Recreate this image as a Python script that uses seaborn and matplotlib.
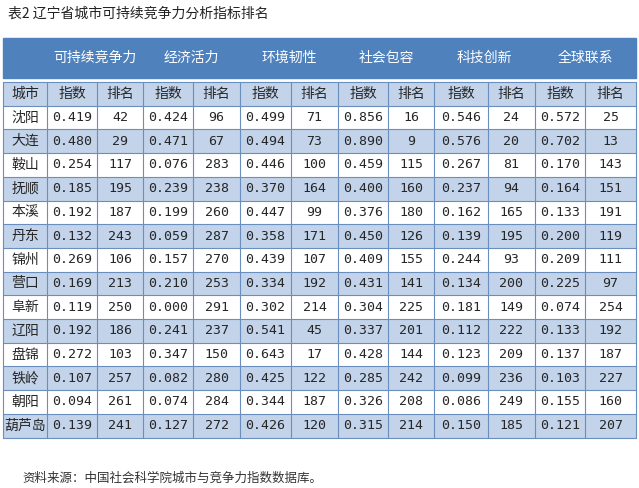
import seaborn as sns
import matplotlib.pyplot as plt
from matplotlib.patches import Rectangle

sns.set_style("white")
plt.rcParams['font.family'] = ['Noto Sans CJK SC', 'DejaVu Sans']

title = "表2 辽宁省城市可持续竞争力分析指标排名"
source = "资料来源：中国社会科学院城市与竞争力指数数据库。"
groups = ["可持续竞争力", "经济活力", "环境韧性", "社会包容", "科技创新", "全球联系"]
cities = ["沈阳", "大连", "鞍山", "抚顺", "本溪", "丹东", "锦州", "营口",
          "阜新", "辽阳", "盘锦", "铁岭", "朝阳", "葫芦岛"]
sustain_idx = [0.419, 0.480, 0.254, 0.185, 0.192, 0.132, 0.269, 0.169, 0.119, 0.192, 0.272, 0.107, 0.094, 0.139]
sustain_rank = [42, 29, 117, 195, 187, 243, 106, 213, 250, 186, 103, 257, 261, 241]
econ_idx = [0.424, 0.471, 0.076, 0.239, 0.199, 0.059, 0.157, 0.210, 0.000, 0.241, 0.347, 0.082, 0.074, 0.127]
econ_rank = [96, 67, 283, 238, 260, 287, 270, 253, 291, 237, 150, 280, 284, 272]
env_idx = [0.499, 0.494, 0.446, 0.370, 0.447, 0.358, 0.439, 0.334, 0.302, 0.541, 0.643, 0.425, 0.344, 0.426]
env_rank = [71, 73, 100, 164, 99, 171, 107, 192, 214, 45, 17, 122, 187, 120]
soc_idx = [0.856, 0.890, 0.459, 0.400, 0.376, 0.450, 0.409, 0.431, 0.304, 0.337, 0.428, 0.285, 0.326, 0.315]
soc_rank = [16, 9, 115, 160, 180, 126, 155, 141, 225, 201, 144, 242, 208, 214]
tech_idx = [0.546, 0.576, 0.267, 0.237, 0.162, 0.139, 0.244, 0.134, 0.181, 0.112, 0.123, 0.099, 0.086, 0.150]
tech_rank = [24, 20, 81, 94, 165, 195, 93, 200, 149, 222, 209, 236, 249, 185]
glob_idx = [0.572, 0.702, 0.170, 0.164, 0.133, 0.200, 0.209, 0.225, 0.074, 0.133, 0.137, 0.103, 0.155, 0.121]
glob_rank = [25, 13, 143, 151, 191, 119, 111, 97, 254, 192, 187, 227, 160, 207]

columns = [sustain_idx, sustain_rank, econ_idx, econ_rank, env_idx, env_rank,
           soc_idx, soc_rank, tech_idx, tech_rank, glob_idx, glob_rank]

fig = plt.figure(figsize=(6.39, 4.88), dpi=100)
ax = fig.add_axes([0, 0, 1, 1])
ax.set_xlim(0, 639)
ax.set_ylim(488, 0)
ax.axis("off")

xs = [3, 47, 97, 143, 193, 240, 291, 338, 388, 434, 488, 535, 585, 636]
header_top, header_bot = 38, 78
sub_top = 82
rh = 23.7
line_c = "#6a8fbf"
dark = "#4f81bd"
light = "#c2d3ea"

ax.text(8, 14, title, fontsize=10, va="center", ha="left", color="#222222")
ax.add_patch(Rectangle((3, header_top), 633, header_bot - header_top, color=dark))
for g, name in enumerate(groups):
    cx = (xs[1 + 2 * g] + xs[3 + 2 * g]) / 2
    ax.text(cx, 58, name, fontsize=10, color="white", ha="center", va="center")

n = len(cities)
for r in range(n + 1):
    y0 = sub_top + r * rh
    fc = light if r % 2 == 0 else "white"
    ax.add_patch(Rectangle((3, y0), 633, rh, facecolor=fc, edgecolor="none"))
    ax.plot([3, 636], [y0, y0], color=line_c, lw=0.8)
    cy = y0 + rh / 2
    if r == 0:
        ax.text((xs[0] + xs[1]) / 2, cy, "城市", fontsize=10, ha="center", va="center")
        for c in range(12):
            ax.text((xs[c + 1] + xs[c + 2]) / 2, cy, "指数" if c % 2 == 0 else "排名",
                    fontsize=10, ha="center", va="center")
    else:
        ax.text((xs[0] + xs[1]) / 2, cy, cities[r - 1], fontsize=10, ha="center", va="center")
        for c, col in enumerate(columns):
            v = col[r - 1]
            s = f"{v:.3f}" if c % 2 == 0 else str(v)
            ax.text((xs[c + 1] + xs[c + 2]) / 2, cy, s, fontsize=9.5, ha="center",
                    va="center", family="DejaVu Sans Mono")
bottom = sub_top + (n + 1) * rh
ax.plot([3, 636], [bottom, bottom], color=line_c, lw=0.8)
for x in xs:
    ax.plot([x, x], [sub_top, bottom], color=line_c, lw=0.8)

ax.text(22, 478, source, fontsize=9, va="center", ha="left", color="#333333")

fig.savefig("out.png", dpi=100)
